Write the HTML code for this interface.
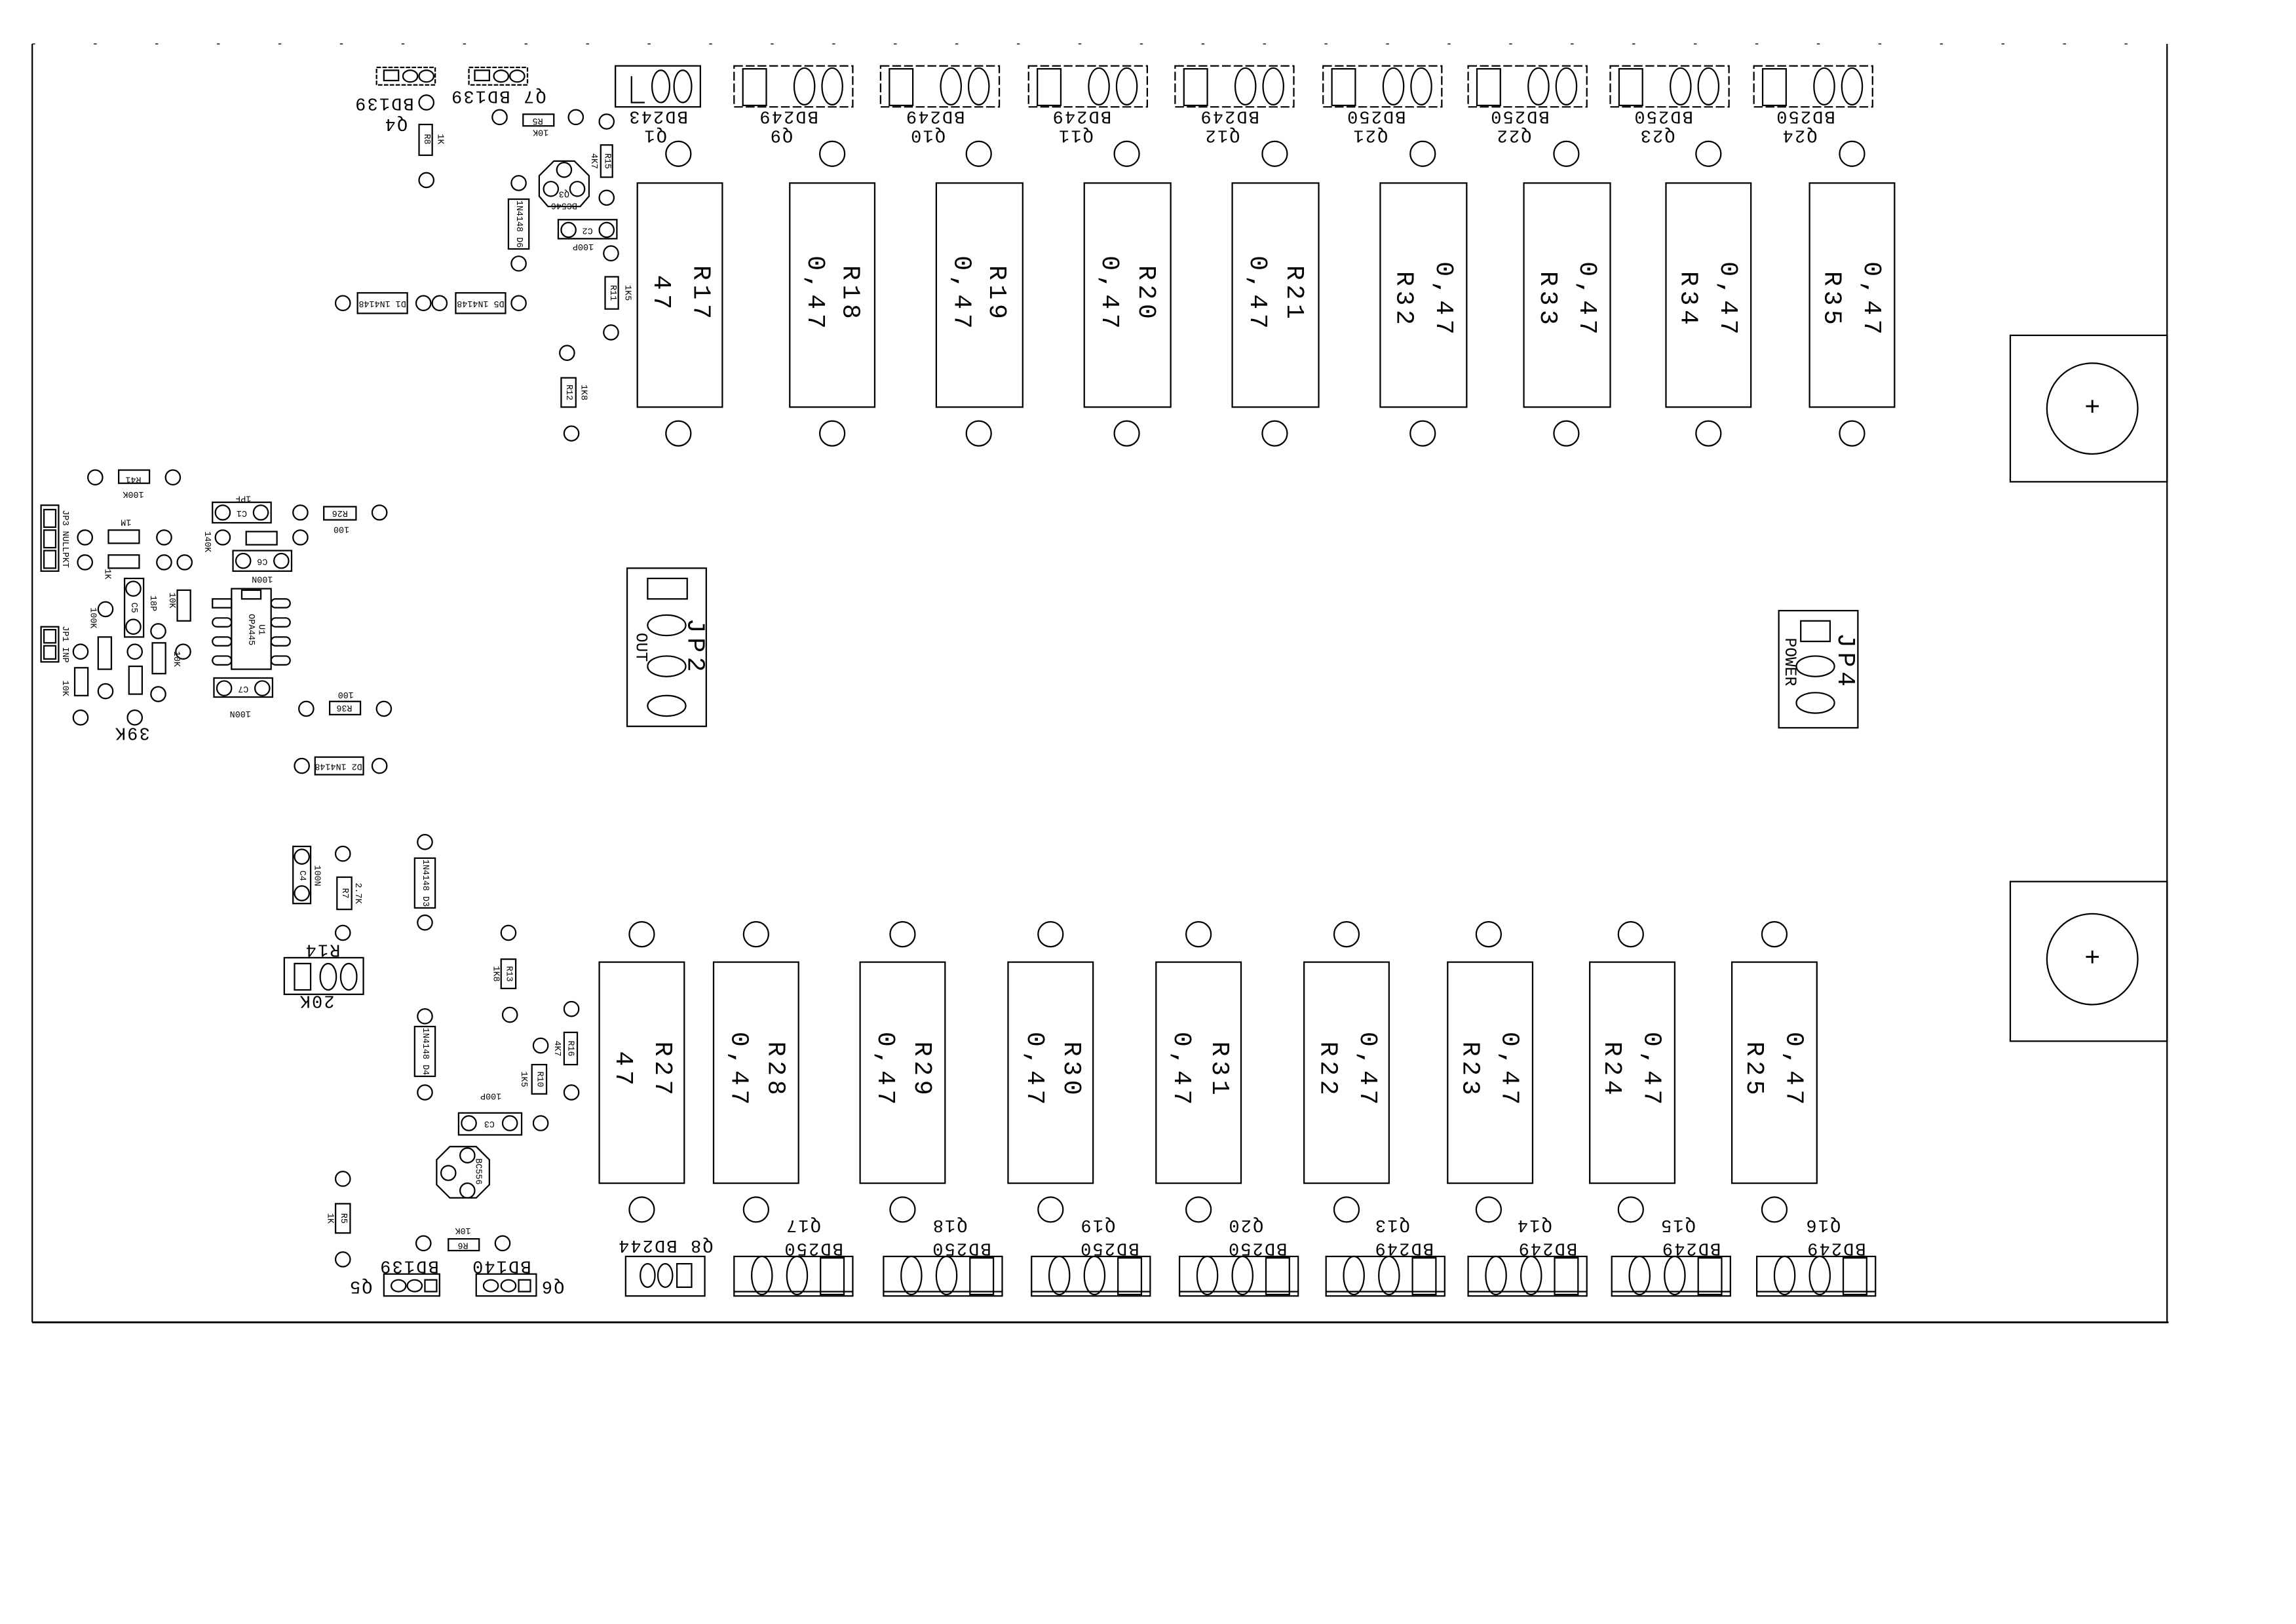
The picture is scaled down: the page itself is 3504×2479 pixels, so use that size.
<!DOCTYPE html>
<html><head><meta charset="utf-8"><style>
html,body{margin:0;padding:0;background:#fff;}
svg{display:block;}
text{font-family:"Liberation Mono","DejaVu Sans Mono",monospace;fill:#000;}
</style></head><body>
<svg width="3504" height="2479" viewBox="0 0 1567 1109" preserveAspectRatio="none" xmlns="http://www.w3.org/2000/svg">
<g fill="none" stroke="#000" stroke-width="1">
<!-- board outline -->
<line x1="22" y1="30" x2="22" y2="903"/>
<line x1="22" y1="903" x2="1480" y2="903" stroke-width="1.3"/>
<line x1="1479" y1="30" x2="1479" y2="903"/>
<line x1="22" y1="30" x2="1479" y2="30" stroke-dasharray="2 40" stroke-width="0.6"/>
<!-- mounting -->
<rect x="1372" y="229" width="107" height="100"/>
<circle cx="1428" cy="279" r="31"/>
<rect x="1372" y="602" width="107" height="109"/>
<circle cx="1428" cy="655" r="31"/>

<!-- top power resistors -->
<rect x="435" y="125" width="58" height="153"/>
<rect x="539" y="125" width="58" height="153"/>
<rect x="639" y="125" width="59" height="153"/>
<rect x="740" y="125" width="59" height="153"/>
<rect x="841" y="125" width="59" height="153"/>
<rect x="942" y="125" width="59" height="153"/>
<rect x="1040" y="125" width="59" height="153"/>
<rect x="1137" y="125" width="58" height="153"/>
<rect x="1235" y="125" width="58" height="153"/>
<circle cx="463" cy="105" r="8.5"/><circle cx="568" cy="105" r="8.5"/><circle cx="668" cy="105" r="8.5"/>
<circle cx="769" cy="105" r="8.5"/><circle cx="870" cy="105" r="8.5"/><circle cx="971" cy="105" r="8.5"/>
<circle cx="1069" cy="105" r="8.5"/><circle cx="1166" cy="105" r="8.5"/><circle cx="1264" cy="105" r="8.5"/>
<circle cx="463" cy="296" r="8.5"/><circle cx="568" cy="296" r="8.5"/><circle cx="668" cy="296" r="8.5"/>
<circle cx="769" cy="296" r="8.5"/><circle cx="870" cy="296" r="8.5"/><circle cx="971" cy="296" r="8.5"/>
<circle cx="1069" cy="296" r="8.5"/><circle cx="1166" cy="296" r="8.5"/><circle cx="1264" cy="296" r="8.5"/>

<!-- bottom power resistors -->
<rect x="409" y="657" width="58" height="151"/>
<rect x="487" y="657" width="58" height="151"/>
<rect x="587" y="657" width="58" height="151"/>
<rect x="688" y="657" width="58" height="151"/>
<rect x="789" y="657" width="58" height="151"/>
<rect x="890" y="657" width="58" height="151"/>
<rect x="988" y="657" width="58" height="151"/>
<rect x="1085" y="657" width="58" height="151"/>
<rect x="1182" y="657" width="58" height="151"/>
<circle cx="438" cy="638" r="8.5"/><circle cx="516" cy="638" r="8.5"/><circle cx="616" cy="638" r="8.5"/>
<circle cx="717" cy="638" r="8.5"/><circle cx="818" cy="638" r="8.5"/><circle cx="919" cy="638" r="8.5"/>
<circle cx="1016" cy="638" r="8.5"/><circle cx="1113" cy="638" r="8.5"/><circle cx="1211" cy="638" r="8.5"/>
<circle cx="438" cy="826" r="8.5"/><circle cx="516" cy="826" r="8.5"/><circle cx="616" cy="826" r="8.5"/>
<circle cx="717" cy="826" r="8.5"/><circle cx="818" cy="826" r="8.5"/><circle cx="919" cy="826" r="8.5"/>
<circle cx="1016" cy="826" r="8.5"/><circle cx="1113" cy="826" r="8.5"/><circle cx="1211" cy="826" r="8.5"/>

<!-- top transistors -->
<rect x="420" y="45" width="58" height="28"/><path d="M431 52 V70 H440"/><ellipse cx="451" cy="59" rx="6" ry="11"/><ellipse cx="466" cy="59" rx="6" ry="11"/>
<g id="tt">
<rect x="501" y="45" width="81" height="28" stroke-dasharray="6 2"/><rect x="507" y="47" width="16" height="25"/><ellipse cx="549" cy="59" rx="7" ry="12.5"/><ellipse cx="568" cy="59" rx="7" ry="12.5"/>
</g>
<use href="#tt" x="100"/><use href="#tt" x="201"/><use href="#tt" x="301"/><use href="#tt" x="402"/>
<use href="#tt" x="501"/><use href="#tt" x="598"/><use href="#tt" x="696"/>

<!-- bottom transistors -->
<rect x="427" y="858" width="54" height="27"/><ellipse cx="442" cy="871" rx="5" ry="8"/><ellipse cx="454" cy="871" rx="5" ry="8"/><rect x="462" y="863" width="10" height="16"/>
<g id="bt">
<rect x="501" y="858" width="81" height="27"/><line x1="501" y1="882" x2="582" y2="882"/><ellipse cx="520" cy="871" rx="7" ry="13"/><ellipse cx="544" cy="871" rx="7" ry="13"/><rect x="560" y="859" width="16" height="25"/>
</g>
<use href="#bt" x="102"/><use href="#bt" x="203"/><use href="#bt" x="304"/><use href="#bt" x="404"/>
<use href="#bt" x="501"/><use href="#bt" x="599"/><use href="#bt" x="698"/>

<!-- JP2 -->
<rect x="428" y="388" width="54" height="108"/>
<rect x="442" y="395" width="27" height="14"/>
<ellipse cx="455" cy="427" rx="13" ry="7"/><ellipse cx="455" cy="455" rx="13" ry="7"/><ellipse cx="455" cy="482" rx="13" ry="7"/>
<!-- JP4 -->
<rect x="1214" y="417" width="54" height="80"/>
<rect x="1229" y="424" width="20" height="14"/>
<ellipse cx="1239" cy="455" rx="13" ry="7"/><ellipse cx="1239" cy="480" rx="13" ry="7"/>

<!-- top-left small parts -->
<rect x="257" y="46" width="40" height="12" stroke-dasharray="3 1"/><rect x="262" y="48" width="10" height="7"/><ellipse cx="280" cy="52" rx="5" ry="4"/><ellipse cx="291" cy="52" rx="5" ry="4"/>
<rect x="320" y="46" width="40" height="12" stroke-dasharray="3 1"/><rect x="324" y="48" width="10" height="7"/><ellipse cx="342" cy="52" rx="5" ry="4"/><ellipse cx="353" cy="52" rx="5" ry="4"/>
<circle cx="291" cy="70" r="5"/><rect x="286" y="85" width="9" height="21"/><circle cx="291" cy="123" r="5"/>
<circle cx="341" cy="80" r="5"/><rect x="357" y="78" width="21" height="8"/><circle cx="393" cy="80" r="5"/><circle cx="414" cy="83" r="5"/>
<rect x="410" y="99" width="8" height="22"/>
<path d="M378 110 L392 110 L402 120 L402 134 L396 141 L374 141 L368 134 L368 120 Z"/>
<circle cx="385" cy="116" r="5"/><circle cx="376" cy="129" r="5"/><circle cx="394" cy="129" r="5"/>
<circle cx="354" cy="125" r="5"/><rect x="347" y="136" width="14" height="34"/><circle cx="354" cy="180" r="5"/>
<circle cx="414" cy="135" r="5"/>
<rect x="381" y="150" width="40" height="13"/><circle cx="388" cy="157" r="5"/><circle cx="414" cy="157" r="5"/>
<circle cx="417" cy="173" r="5"/><rect x="413" y="189" width="9" height="22"/><circle cx="417" cy="227" r="5"/>
<circle cx="387" cy="241" r="5"/><rect x="383" y="258" width="10" height="20"/><circle cx="390" cy="296" r="5"/>
<circle cx="234" cy="207" r="5"/><rect x="244" y="200" width="34" height="14"/><circle cx="289" cy="207" r="5"/><circle cx="300" cy="207" r="5"/><rect x="311" y="200" width="34" height="14"/><circle cx="354" cy="207" r="5"/>

<!-- left input section -->
<circle cx="65" cy="326" r="5"/><rect x="81" y="321" width="21" height="9"/><circle cx="118" cy="326" r="5"/>
<rect x="28" y="345" width="12" height="45"/><rect x="30" y="348" width="8" height="12"/><rect x="30" y="362" width="8" height="12"/><rect x="30" y="376" width="8" height="12"/>
<circle cx="58" cy="367" r="5"/><rect x="74" y="362" width="21" height="9"/><circle cx="112" cy="367" r="5"/>
<circle cx="58" cy="384" r="5"/><rect x="74" y="379" width="21" height="9"/><circle cx="112" cy="384" r="5"/><circle cx="126" cy="384" r="5"/>
<rect x="145" y="343" width="40" height="14"/><circle cx="152" cy="350" r="5"/><circle cx="178" cy="350" r="5"/>
<circle cx="205" cy="350" r="5"/><rect x="221" y="346" width="22" height="9"/><circle cx="259" cy="350" r="5"/>
<circle cx="152" cy="367" r="5"/><rect x="168" y="363" width="21" height="9"/><circle cx="205" cy="367" r="5"/>
<rect x="159" y="376" width="40" height="14"/><circle cx="166" cy="383" r="5"/><circle cx="192" cy="383" r="5"/>
<rect x="85" y="395" width="13" height="40"/><circle cx="91" cy="402" r="5"/><circle cx="91" cy="428" r="5"/>
<rect x="121" y="403" width="9" height="21"/>
<circle cx="72" cy="416" r="5"/><circle cx="108" cy="431" r="5"/>
<rect x="158" y="402" width="27" height="55"/><rect x="165" y="403" width="13" height="6"/>
<rect x="145" y="409" width="13" height="6"/><rect x="145" y="422" width="13" height="6" rx="3"/><rect x="145" y="435" width="13" height="6" rx="3"/><rect x="145" y="448" width="13" height="6" rx="3"/>
<rect x="185" y="409" width="13" height="6" rx="3"/><rect x="185" y="422" width="13" height="6" rx="3"/><rect x="185" y="435" width="13" height="6" rx="3"/><rect x="185" y="448" width="13" height="6" rx="3"/>
<rect x="28" y="428" width="12" height="24"/><rect x="30" y="430" width="8" height="9"/><rect x="30" y="441" width="8" height="9"/>
<circle cx="55" cy="445" r="5"/><rect x="67" y="435" width="9" height="22"/><circle cx="92" cy="445" r="5"/><circle cx="125" cy="445" r="5"/>
<rect x="104" y="439" width="9" height="21"/>
<rect x="51" y="456" width="9" height="19"/><circle cx="72" cy="472" r="5"/><rect x="88" y="455" width="9" height="19"/><circle cx="108" cy="474" r="5"/>
<circle cx="55" cy="490" r="5"/><circle cx="92" cy="490" r="5"/>
<rect x="146" y="463" width="40" height="13"/><circle cx="153" cy="470" r="5"/><circle cx="179" cy="470" r="5"/>
<circle cx="209" cy="484" r="5"/><rect x="225" y="479" width="21" height="9"/><circle cx="262" cy="484" r="5"/>
<circle cx="206" cy="523" r="5"/><rect x="215" y="517" width="33" height="12"/><circle cx="259" cy="523" r="5"/>

<!-- lower left section -->
<rect x="200" y="578" width="12" height="39"/><circle cx="206" cy="585" r="5"/><circle cx="206" cy="610" r="5"/>
<circle cx="234" cy="583" r="5"/><rect x="230" y="599" width="10" height="22"/><circle cx="234" cy="637" r="5"/>
<circle cx="290" cy="575" r="5"/><rect x="283" y="586" width="14" height="34"/><circle cx="290" cy="630" r="5"/>
<rect x="194" y="654" width="54" height="25"/><rect x="201" y="658" width="11" height="18"/><ellipse cx="224" cy="667" rx="5.5" ry="9"/><ellipse cx="238" cy="667" rx="5.5" ry="9"/>
<circle cx="347" cy="637" r="5"/><rect x="342" y="655" width="10" height="20"/><circle cx="348" cy="693" r="5"/>
<circle cx="390" cy="689" r="5"/><rect x="385" y="705" width="9" height="22"/><circle cx="369" cy="714" r="5"/>
<rect x="363" y="727" width="10" height="20"/><circle cx="390" cy="746" r="5"/>
<circle cx="290" cy="694" r="5"/><rect x="283" y="701" width="14" height="34"/><circle cx="290" cy="746" r="5"/>
<rect x="313" y="760" width="43" height="15"/><circle cx="320" cy="767" r="5"/><circle cx="348" cy="767" r="5"/><circle cx="369" cy="767" r="5"/>
<path d="M307 783 L325 783 L334 792 L334 809 L325 818 L307 818 L298 809 L298 792 Z"/>
<circle cx="319" cy="789" r="5"/><circle cx="306" cy="801" r="5"/><circle cx="319" cy="813" r="5"/>
<circle cx="234" cy="805" r="5"/><rect x="229" y="822" width="10" height="20"/><circle cx="234" cy="860" r="5"/>
<circle cx="289" cy="849" r="5"/><rect x="306" y="846" width="21" height="8"/><circle cx="343" cy="849" r="5"/>
<rect x="262" y="870" width="38" height="15"/><ellipse cx="272" cy="878" rx="5" ry="4"/><ellipse cx="283" cy="878" rx="5" ry="4"/><rect x="290" y="874" width="8" height="8"/>
<rect x="325" y="870" width="41" height="15"/><ellipse cx="335" cy="878" rx="5" ry="4"/><ellipse cx="347" cy="878" rx="5" ry="4"/><rect x="354" y="874" width="8" height="8"/>
</g>

<!-- big resistor labels (rotated 90) -->
<g font-size="17" letter-spacing="3" text-anchor="middle" dominant-baseline="central">
<text transform="translate(478,201) rotate(90)">R17</text><text transform="translate(451,201) rotate(90)">47</text>
<text transform="translate(580,201) rotate(90)">R18</text><text transform="translate(556,201) rotate(90)">0,47</text>
<text transform="translate(680,201) rotate(90)">R19</text><text transform="translate(656,201) rotate(90)">0,47</text>
<text transform="translate(782,201) rotate(90)">R20</text><text transform="translate(757,201) rotate(90)">0,47</text>
<text transform="translate(883,201) rotate(90)">R21</text><text transform="translate(858,201) rotate(90)">0,47</text>
<text transform="translate(985,205) rotate(90)">0,47</text><text transform="translate(958,205) rotate(90)">R32</text>
<text transform="translate(1083,205) rotate(90)">0,47</text><text transform="translate(1056,205) rotate(90)">R33</text>
<text transform="translate(1179,205) rotate(90)">0,47</text><text transform="translate(1152,205) rotate(90)">R34</text>
<text transform="translate(1277,205) rotate(90)">0,47</text><text transform="translate(1250,205) rotate(90)">R35</text>
<text transform="translate(452,731) rotate(90)">R27</text><text transform="translate(425,731) rotate(90)">47</text>
<text transform="translate(529,731) rotate(90)">R28</text><text transform="translate(504,731) rotate(90)">0,47</text>
<text transform="translate(629,731) rotate(90)">R29</text><text transform="translate(604,731) rotate(90)">0,47</text>
<text transform="translate(731,731) rotate(90)">R30</text><text transform="translate(706,731) rotate(90)">0,47</text>
<text transform="translate(832,731) rotate(90)">R31</text><text transform="translate(806,731) rotate(90)">0,47</text>
<text transform="translate(933,731) rotate(90)">0,47</text><text transform="translate(906,731) rotate(90)">R22</text>
<text transform="translate(1030,731) rotate(90)">0,47</text><text transform="translate(1003,731) rotate(90)">R23</text>
<text transform="translate(1127,731) rotate(90)">0,47</text><text transform="translate(1100,731) rotate(90)">R24</text>
<text transform="translate(1224,731) rotate(90)">0,47</text><text transform="translate(1197,731) rotate(90)">R25</text>
<text transform="translate(474,442) rotate(90)">JP2</text>
<text transform="translate(1259,452) rotate(90)">JP4</text>
</g>
<g font-size="11" text-anchor="middle" dominant-baseline="central">
<text transform="translate(437,442) rotate(90)">OUT</text>
<text transform="translate(1221,452) rotate(90)">POWER</text>
</g>
<g font-size="18" text-anchor="middle" dominant-baseline="central"><text x="1428" y="279">+</text><text x="1428" y="655">+</text></g>

<!-- upside-down transistor labels -->
<g font-size="12" letter-spacing="1" text-anchor="middle" dominant-baseline="central">
<text transform="translate(449,79) rotate(180)">BD243</text><text transform="translate(447,92) rotate(180)">Q1</text>
<text transform="translate(538,79) rotate(180)">BD249</text><text transform="translate(533,92) rotate(180)">Q9</text>
<text transform="translate(638,79) rotate(180)">BD249</text><text transform="translate(633,92) rotate(180)">Q10</text>
<text transform="translate(738,79) rotate(180)">BD249</text><text transform="translate(734,92) rotate(180)">Q11</text>
<text transform="translate(839,79) rotate(180)">BD249</text><text transform="translate(834,92) rotate(180)">Q12</text>
<text transform="translate(939,79) rotate(180)">BD250</text><text transform="translate(935,92) rotate(180)">Q21</text>
<text transform="translate(1037,79) rotate(180)">BD250</text><text transform="translate(1033,92) rotate(180)">Q22</text>
<text transform="translate(1135,79) rotate(180)">BD250</text><text transform="translate(1131,92) rotate(180)">Q23</text>
<text transform="translate(1232,79) rotate(180)">BD250</text><text transform="translate(1228,92) rotate(180)">Q24</text>
<text transform="translate(454,850) rotate(180)">Q8 BD244</text>
<text transform="translate(555,852) rotate(180)">BD250</text><text transform="translate(548,836) rotate(180)">Q17</text>
<text transform="translate(656,852) rotate(180)">BD250</text><text transform="translate(648,836) rotate(180)">Q18</text>
<text transform="translate(757,852) rotate(180)">BD250</text><text transform="translate(749,836) rotate(180)">Q19</text>
<text transform="translate(858,852) rotate(180)">BD250</text><text transform="translate(850,836) rotate(180)">Q20</text>
<text transform="translate(958,852) rotate(180)">BD249</text><text transform="translate(950,836) rotate(180)">Q13</text>
<text transform="translate(1056,852) rotate(180)">BD249</text><text transform="translate(1047,836) rotate(180)">Q14</text>
<text transform="translate(1154,852) rotate(180)">BD249</text><text transform="translate(1145,836) rotate(180)">Q15</text>
<text transform="translate(1253,852) rotate(180)">BD249</text><text transform="translate(1244,836) rotate(180)">Q16</text>
<text transform="translate(262,70) rotate(180)">BD139</text><text transform="translate(270,84) rotate(180)">Q4</text>
<text transform="translate(340,65) rotate(180)">Q7 BD139</text>
<text transform="translate(279,864) rotate(180)">BD139</text><text transform="translate(246,878) rotate(180)">Q5</text>
<text transform="translate(342,864) rotate(180)">BD140</text><text transform="translate(377,878) rotate(180)">Q6</text>
<text transform="translate(216,683) rotate(180)">20K</text><text transform="translate(220,648) rotate(180)">R14</text>
<text transform="translate(90,500) rotate(180)">39K</text>
</g>
<!-- small labels -->
<g font-size="6" text-anchor="middle" dominant-baseline="central">
<text transform="translate(91,337) rotate(180)">100K</text>
<text transform="translate(86,356) rotate(180)">1M</text>
<text transform="translate(166,340) rotate(180)">1PF</text>
<text transform="translate(233,361) rotate(180)">100</text>
<text transform="translate(179,395) rotate(180)">100N</text>
<text transform="translate(164,487) rotate(180)">100N</text>
<text transform="translate(236,474) rotate(180)">100</text>
<text transform="translate(369,90) rotate(180)">10K</text>
<text transform="translate(398,168) rotate(180)">100P</text>
<text transform="translate(335,748) rotate(180)">100P</text>
<text transform="translate(316,840) rotate(180)">10K</text>
<text transform="translate(91,327) rotate(180)">R41</text>
<text transform="translate(232,350) rotate(180)">R26</text>
<text transform="translate(235,483) rotate(180)">R36</text>
<text transform="translate(231,523) rotate(180)">D2 1N4148</text>
<text transform="translate(261,207) rotate(180)">D1 1N4148</text>
<text transform="translate(328,207) rotate(180)">D5 1N4148</text>
<text transform="translate(316,850) rotate(180)">R6</text>
<text transform="translate(367,82) rotate(180)">R5</text>
<text transform="translate(165,350) rotate(180)">C1</text>
<text transform="translate(179,383) rotate(180)">C6</text>
<text transform="translate(166,470) rotate(180)">C7</text>
<text transform="translate(401,157) rotate(180)">C2</text>
<text transform="translate(334,767) rotate(180)">C3</text>
<text transform="translate(385,140) rotate(180)">BC546</text>
<text transform="translate(385,132) rotate(180)">Q3</text>
</g>
<g font-size="6" text-anchor="middle" dominant-baseline="central">
<text transform="translate(171,430) rotate(90)">OPA445</text>
<text transform="translate(178,430) rotate(90)">U1</text>
<text transform="translate(91,415) rotate(90)">C5</text>
<text transform="translate(206,598) rotate(90)">C4</text>
<text transform="translate(216,598) rotate(90)">100N</text>
<text transform="translate(244,610) rotate(90)">2.7K</text>
<text transform="translate(235,610) rotate(90)">R7</text>
<text transform="translate(290,603) rotate(90)">1N4148 D3</text>
<text transform="translate(290,718) rotate(90)">1N4148 D4</text>
<text transform="translate(354,153) rotate(90)">1N4148 D6</text>
<text transform="translate(347,665) rotate(90)">R13</text><text transform="translate(338,665) rotate(90)">1K8</text>
<text transform="translate(389,716) rotate(90)">R16</text><text transform="translate(380,716) rotate(90)">4K7</text>
<text transform="translate(368,737) rotate(90)">R10</text><text transform="translate(357,737) rotate(90)">1K5</text>
<text transform="translate(234,832) rotate(90)">R5</text><text transform="translate(225,832) rotate(90)">1K</text>
<text transform="translate(414,110) rotate(90)">R15</text><text transform="translate(405,110) rotate(90)">4K7</text>
<text transform="translate(418,200) rotate(90)">R11</text><text transform="translate(428,200) rotate(90)">1K5</text>
<text transform="translate(388,268) rotate(90)">R12</text><text transform="translate(398,268) rotate(90)">1K8</text>
<text transform="translate(291,95) rotate(90)">R8</text><text transform="translate(300,95) rotate(90)">1K</text>
<text transform="translate(326,800) rotate(90)">BC556</text>
<text transform="translate(44,368) rotate(90)">JP3 NULLPKT</text>
<text transform="translate(44,440) rotate(90)">JP1 INP</text>
<text transform="translate(141,370) rotate(90)">140K</text>
<text transform="translate(117,410) rotate(90)">10K</text>
<text transform="translate(104,412) rotate(90)">18P</text>
<text transform="translate(120,450) rotate(90)">10K</text>
<text transform="translate(63,422) rotate(90)">100K</text>
<text transform="translate(44,470) rotate(90)">10K</text>
<text transform="translate(73,392) rotate(90)">1K</text>
</g>
</svg>
</body></html>
